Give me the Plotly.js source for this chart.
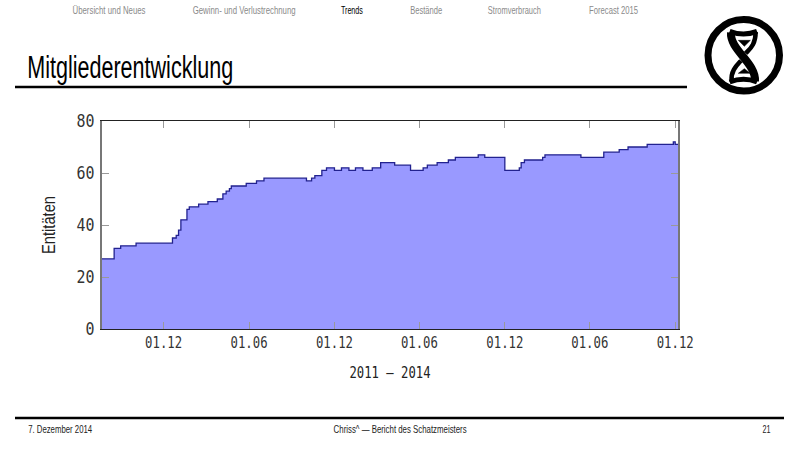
<!DOCTYPE html>
<html><head><meta charset="utf-8">
<script src="https://cdn.plot.ly/plotly-3.0.1.min.js"></script>
<style>html,body{margin:0;padding:0;background:#fff}</style></head>
<body><div id="chart" style="width:800px;height:450px"></div>
<script>
const stepDates = ["2011-07-22","2011-08-17","2011-08-31","2011-10-03","2011-12-20","2011-12-28","2012-01-02","2012-01-07","2012-01-20","2012-01-25","2012-02-14","2012-03-05","2012-03-25","2012-04-06","2012-04-13","2012-04-20","2012-04-24","2012-05-26","2012-06-17","2012-07-03","2012-10-02","2012-10-13","2012-10-20","2012-11-04","2012-11-14","2012-12-01","2012-12-16","2013-01-01","2013-01-15","2013-01-31","2013-02-20","2013-03-10","2013-04-09","2013-05-13","2013-06-09","2013-06-18","2013-07-09","2013-08-02","2013-08-17","2013-10-05","2013-10-19","2013-12-01","2014-01-01","2014-01-05","2014-01-12","2014-02-20","2014-02-25","2014-05-13","2014-07-01","2014-08-03","2014-08-22","2014-10-02","2014-11-27","2014-12-01","2014-12-07"];
const members = [27,31,32,33,35,36,38,42,46,47,48,49,50,52,53,54,55,56,57,58,57,58,59,61,62,61,62,61,62,61,62,64,63,61,62,63,64,65,66,67,66,61,62,64,65,66,67,66,68,69,70,71,72,71,71];
const tickDates = ["2011-12-01","2012-06-01","2012-12-01","2013-06-01","2013-12-01","2014-06-01","2014-12-01"];
const tickLabels = ["01.12","01.06","01.12","01.06","01.12","01.06","01.12"];
const yTicks = [0,20,40,60,80];
const navItems = ["Übersicht und Neues","Gewinn- und Verlustrechnung","Trends","Bestände","Stromverbrauch","Forecast 2015"];
const navCenters = [108.5,243.5,352,426,514.5,613.5];
const navWidths = [73,103,22,32,53,49];
const pageTitle = "Mitgliederentwicklung";
const footer = ["7. Dezember 2014","Chriss^ — Bericht des Schatzmeisters","21"];

const L=102,R=678,T=121,B=329;
const px=x=>(x-L)/(R-L), py=y=>(B-y)/(B-T);
const sans='"Liberation Sans",sans-serif', mono='"DejaVu Sans Mono",monospace';
const note=(x,y,text,size,color)=>({xref:'paper',yref:'paper',x:px(x),y:py(y),text,showarrow:false,xanchor:'center',yanchor:'middle',font:{family:sans,size,color}});
const rule=(x0,x1,y)=>({type:'line',xref:'paper',yref:'paper',x0:px(x0),x1:px(x1),y0:py(y),y1:py(y),line:{color:'#000',width:2.5}});
const lx=v=>px(695+v/3).toFixed(4), ly=v=>py(8+v/3).toFixed(4);
const logoPath=(cmds)=>cmds.map(c=>c[0]+c.slice(1).map((v,i)=>i%2?ly(v):lx(v)).join(',')).join(' ');
const stroke=(cmds,w)=>({type:'path',xref:'paper',yref:'paper',path:logoPath(cmds),line:{color:'#000',width:w}});
const solid=(cmds)=>({type:'path',xref:'paper',yref:'paper',path:logoPath(cmds)+' Z',fillcolor:'#000',line:{color:'#000',width:0.5}});
const logo=[
 {type:'circle',xref:'paper',yref:'paper',x0:px(708),x1:px(779.5),y0:py(91),y1:py(19.5),line:{color:'#000',width:7}},
 stroke([['M',104,70],['Q',146,86,186,70]],5),
 stroke([['M',104,222],['Q',146,206,186,222]],5),
 stroke([['M',108,74],['C',104,125,184,165,180,220]],8),
 stroke([['M',182,72],['C',182,110,165,122,152,136]],4.5),
 stroke([['M',110,220],['C',106,190,125,172,138,158]],4.5),
 solid([['M',130,97],['L',166,97],['L',148,115]]),
 solid([['M',148,182],['L',166,196],['L',130,196]])
];

const trace={type:'scatter',mode:'lines',x:stepDates,y:members,fill:'tozeroy',fillcolor:'#9999ff',line:{shape:'hv',color:'#22228f',width:1.3},hoverinfo:'skip'};
const layout={width:800,height:450,paper_bgcolor:'#fff',plot_bgcolor:'#fff',showlegend:false,
 margin:{l:L,r:800-R,t:T,b:450-B,pad:0},
 xaxis:{type:'date',range:["2011-07-22","2014-12-07"],tickmode:'array',tickvals:tickDates,ticktext:tickLabels,ticks:'inside',ticklen:7,tickwidth:1,tickcolor:'#999',showgrid:false,zeroline:false,showline:true,linecolor:'#222',linewidth:1,mirror:'ticks',tickangle:0,
  tickfont:{family:mono,size:15,color:'#333'},automargin:false,
  title:{text:'2011 – 2014',standoff:16,font:{family:mono,size:15,color:'#222'}}},
 yaxis:{range:[0,80],tickmode:'array',tickvals:yTicks,ticks:'inside',ticklen:7,tickwidth:1,tickcolor:'#999',ticklabelstandoff:2,showgrid:false,zeroline:false,showline:true,linecolor:'#777',linewidth:2,mirror:'ticks',
  tickfont:{family:mono,size:17,color:'#333'},automargin:false,
  title:{text:'Entitäten',standoff:14,font:{family:sans,size:18,color:'#222'}}},
 shapes:[rule(15,687,87),rule(15,784,418)].concat(logo),
 annotations:navItems.map((t,i)=>note(navCenters[i],10,t,i===2?11:10.5,i===2?'#000':'#8a8a8a')).concat([
  note(130,67,pageTitle,31,'#000'),
  note(60,429,footer[0],10,'#222'),
  note(399.5,429,footer[1],10.5,'#222'),
  note(767,429,footer[2],10,'#222')
 ])};
const annWidths = navWidths.concat([206,64,133,8]);
// The reference's slide face is a condensed one: squeeze the real text to its measured widths
const squeeze=(el,w)=>{el.setAttribute('textLength',w);el.setAttribute('lengthAdjust','spacingAndGlyphs');};
Plotly.newPlot('chart',[trace],layout,{displayModeBar:false,staticPlot:true}).then(gd=>{
 gd.querySelectorAll('.annotation-text').forEach((el,i)=>squeeze(el,annWidths[i]));
 gd.querySelectorAll('.xtick text').forEach(el=>squeeze(el,37));
 gd.querySelectorAll('.ytick text').forEach(el=>squeeze(el,el.textContent.length*9));
 squeeze(gd.querySelector('.xtitle'),81);
 squeeze(gd.querySelector('.ytitle'),58);
});
</script></body></html>
